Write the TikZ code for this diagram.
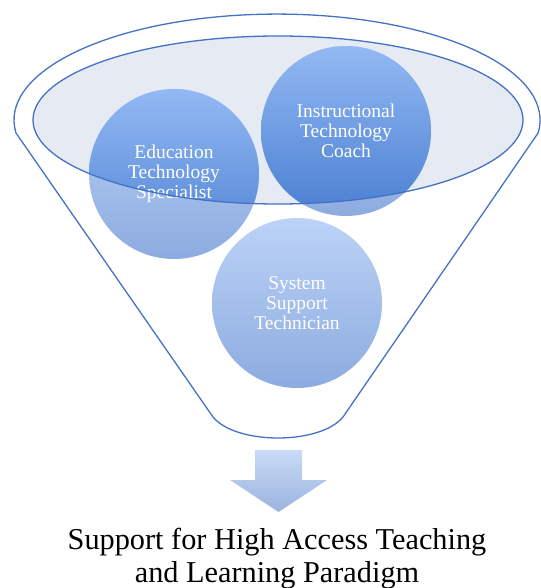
\documentclass[tikz,border=0pt]{standalone}
\usepackage{fontspec}
\setmainfont{Liberation Serif}
\usepackage{xcolor}
\definecolor{rimblue}{HTML}{4472C4}
\definecolor{lensfill}{HTML}{E5EAF3}
\definecolor{bubtop}{HTML}{BCD3F7}
\definecolor{bubbot}{HTML}{8CABDF}
\definecolor{deeptop}{HTML}{93B9F3}
\definecolor{deepbot}{HTML}{4A7FD2}
\definecolor{arrtop}{HTML}{C8DBF7}
\definecolor{arrbot}{HTML}{9BB4DD}

\begin{document}
\begin{tikzpicture}[
  x=1pt, y=-1pt,
  rim/.style={draw=rimblue, line width=1.3pt},
  bubble/.style={
    circle, minimum size=170pt, inner sep=0pt,
    top color=bubtop, bottom color=bubbot,
    text=white, align=center, font=\fontsize{19.5}{20}\selectfont,
    path picture={
      \begin{scope}
        \clip (lens) ellipse [x radius=245, y radius=84];
        \shade[top color=deeptop, bottom color=deepbot]
          (path picture bounding box.north west) rectangle
          (path picture bounding box.south east);
      \end{scope}}
  },
  goal/.style={align=center, font=\fontsize{30.3}{33}\selectfont}
]
\useasboundingbox (0,0) rectangle (540,588);

% Funnel
\coordinate (lens) at (278,120);
\draw[rim] (16,133) arc[start angle=173, end angle=367, x radius=263, y radius=106]
  -- (343,417) .. controls (320,445) and (236,445) .. (213,417) -- cycle;
\fill[lensfill] (lens) ellipse [x radius=245, y radius=84];

% Roles
\node[bubble] (edu) at (174,174) {Education\\Technology\\Specialist};
\node[bubble] (itc) at (346,131) {Instructional\\Technology\\Coach};
\node[bubble] (sst) at (297,303) {System\\Support\\Technician};

% Rim of the funnel mouth
\draw[rim] (lens) ellipse [x radius=245, y radius=84];

% Output
\shade[top color=arrtop, bottom color=arrbot]
  (255,450) -- (302,450) -- (302,480) -- (327,480) -- (278.5,512)
  -- (230,480) -- (255,480) -- cycle;
\node[goal] (paradigm) at (277,559) {Support for High Access Teaching\\and Learning Paradigm};

\end{tikzpicture}
\end{document}
